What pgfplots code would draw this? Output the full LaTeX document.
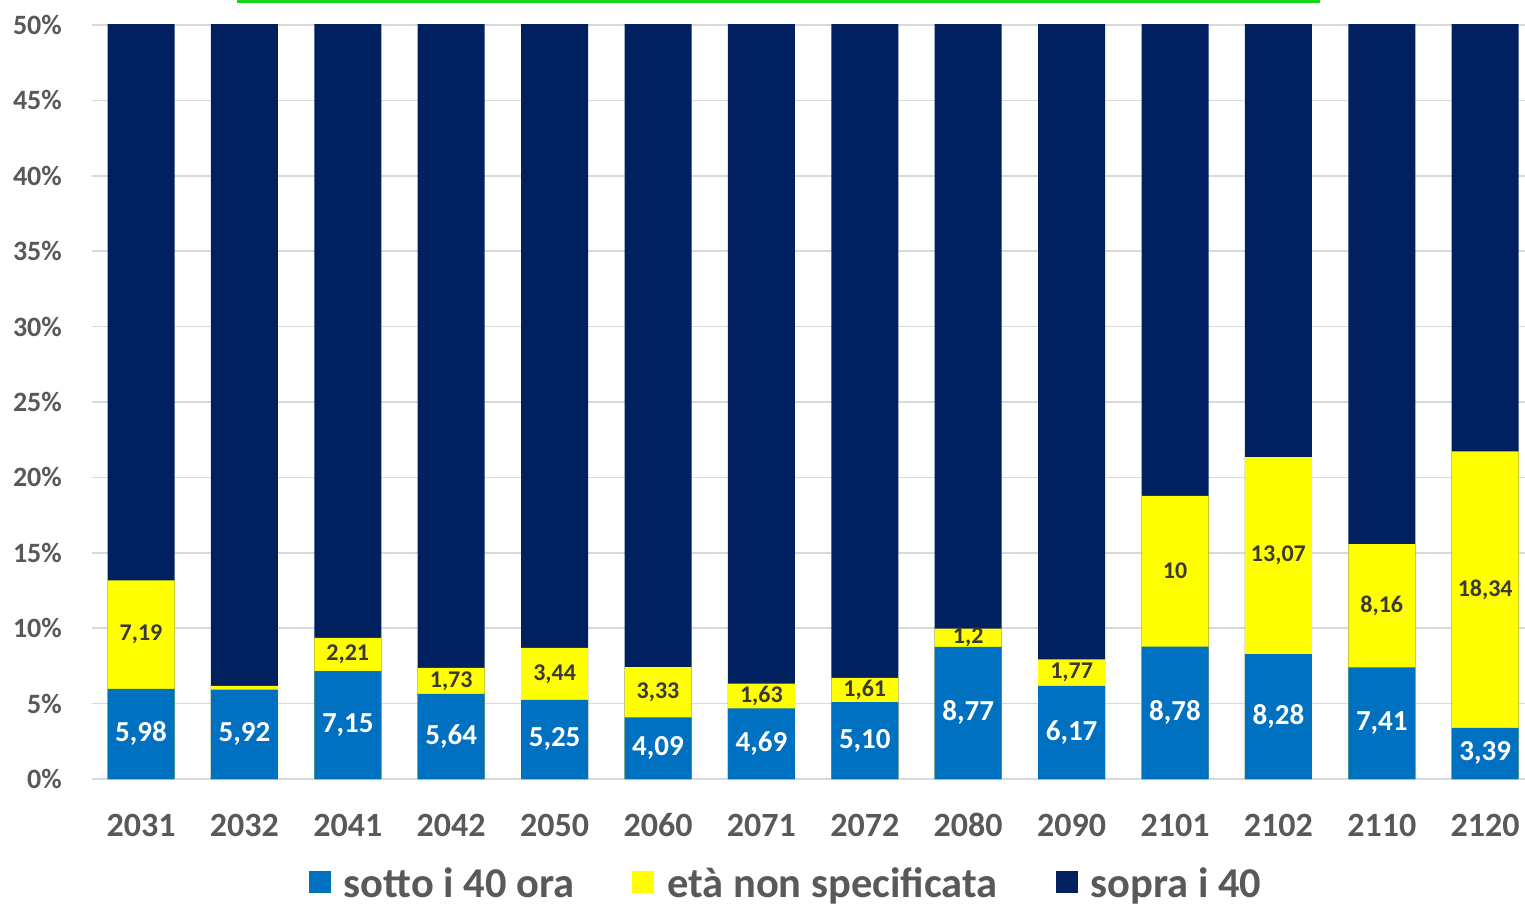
\documentclass[border=0pt]{standalone}
\usepackage{pgfplots}
\pgfplotsset{compat=1.18}
\usepackage{pgfplotstable}
\usepackage{fontspec}
\setmainfont{Carlito}

\definecolor{blu}{HTML}{0070C0}
\definecolor{giallo}{HTML}{FFFF00}
\definecolor{navy}{HTML}{002060}
\definecolor{grigio}{HTML}{595959}
\definecolor{griglia}{HTML}{D9D9D9}
\definecolor{verde}{RGB}{20,215,20}
\definecolor{scuro}{HTML}{3A3A30}

% b = sotto i 40 ora, y = eta non specificata, n = sopra i 40
\pgfplotstableread{
x  cat   b     y      n      bl    yl
0  2031  5.98  7.19   86.83  5,98  7,19
1  2032  5.92  0.25   93.83  5,92  -
2  2041  7.15  2.21   90.64  7,15  2,21
3  2042  5.64  1.73   92.63  5,64  1,73
4  2050  5.25  3.44   91.31  5,25  3,44
5  2060  4.09  3.33   92.58  4,09  3,33
6  2071  4.69  1.63   93.68  4,69  1,63
7  2072  5.10  1.61   93.29  5,10  1,61
8  2080  8.77  1.2    90.03  8,77  1,2
9  2090  6.17  1.77   92.06  6,17  1,77
10 2101  8.78  10     81.22  8,78  10
11 2102  8.28  13.07  78.65  8,28  13,07
12 2110  7.41  8.16   84.43  7,41  8,16
13 2120  3.39  18.34  78.27  3,39  18,34
}\data

\pgfplotsset{
  sq/.style={legend image code/.code={\fill[##1, draw=none] (0pt,1pt) rectangle (22pt,23pt);}},
  barra/.style={ybar, bar width=67pt, bar shift=0pt, draw=none, forget plot},
}

\begin{document}
\begin{tikzpicture}
\begin{axis}[
  name=ax,
  scale only axis,
  width=1433pt, height=754pt,
  xmin=-0.474, xmax=13.385,
  ymin=0, ymax=50,
  axis line style={draw=none},
  major tick length=0pt,
  ymajorgrids,
  grid style={griglia, line width=1.5pt},
  ytick={0,5,...,50},
  yticklabel={\pgfmathprintnumber{\tick}\%},
  xtick={0,...,13},
  xticklabels={2031,2032,2041,2042,2050,2060,2071,2072,2080,2090,2101,2102,2110,2120},
  /pgf/number format/assume math mode=true,
  yticklabel style={font=\fontsize{28}{30}\selectfont\bfseries, text=grigio,
    anchor=east, inner sep=0pt, xshift=-30pt},
  xticklabel style={font=\fontsize{34}{36}\selectfont\bfseries, text=grigio,
    anchor=base, inner sep=0pt, yshift=-57pt},
  legend columns=-1,
  legend cell align=left,
  legend style={draw=none, fill=none, at={(0.4836,-0.1401)}, anchor=center,
    font=\fontsize{42.5}{44}\selectfont\bfseries, text=grigio,
    nodes={inner sep=0pt, text height=0.65em, text depth=0.1em},
    /tikz/every odd column/.append style={column sep=13pt},
    /tikz/every even column/.append style={column sep=58pt}},
]
\addlegendimage{sq, fill=blu}
\addlegendentry{sotto i 40 ora}
\addlegendimage{sq, fill=giallo}
\addlegendentry{età non specificata}
\addlegendimage{sq, fill=navy}
\addlegendentry{sopra i 40}

% cumulative bars, tallest first
\addplot[barra, fill=navy] table[x=x, y expr=\thisrow{b}+\thisrow{y}+\thisrow{n}] {\data};
\addplot[barra, fill=giallo] table[x=x, y expr=\thisrow{b}+\thisrow{y}] {\data};
\addplot[barra, fill=blu] table[x=x, y=b] {\data};

% value labels in the middle of each segment
\addplot[draw=none, mark=none, forget plot, nodes near coords,
  point meta=explicit symbolic,
  nodes near coords style={anchor=center, inner sep=0pt, text=white,
    font=\fontsize{29}{30}\selectfont\bfseries}]
  table[x=x, y expr=\thisrow{b}/2, meta=bl] {\data};
\addplot[draw=none, mark=none, forget plot, nodes near coords,
  point meta=explicit symbolic, skip coords between index={1}{2},
  nodes near coords style={anchor=center, inner sep=0pt, text=scuro,
    font=\fontsize{24}{26}\selectfont\bfseries}]
  table[x=x, y expr=\thisrow{b}+\thisrow{y}/2, meta=yl] {\data};
\end{axis}
\draw[verde, line width=3pt] ([shift={(145pt,23.5pt)}]ax.north west) -- ([shift={(1228pt,23.5pt)}]ax.north west);
\pgfresetboundingbox
\path ([shift={(-92pt,25pt)}]ax.north west) rectangle ([shift={(0pt,-129pt)}]ax.south east);
\end{tikzpicture}
\end{document}
